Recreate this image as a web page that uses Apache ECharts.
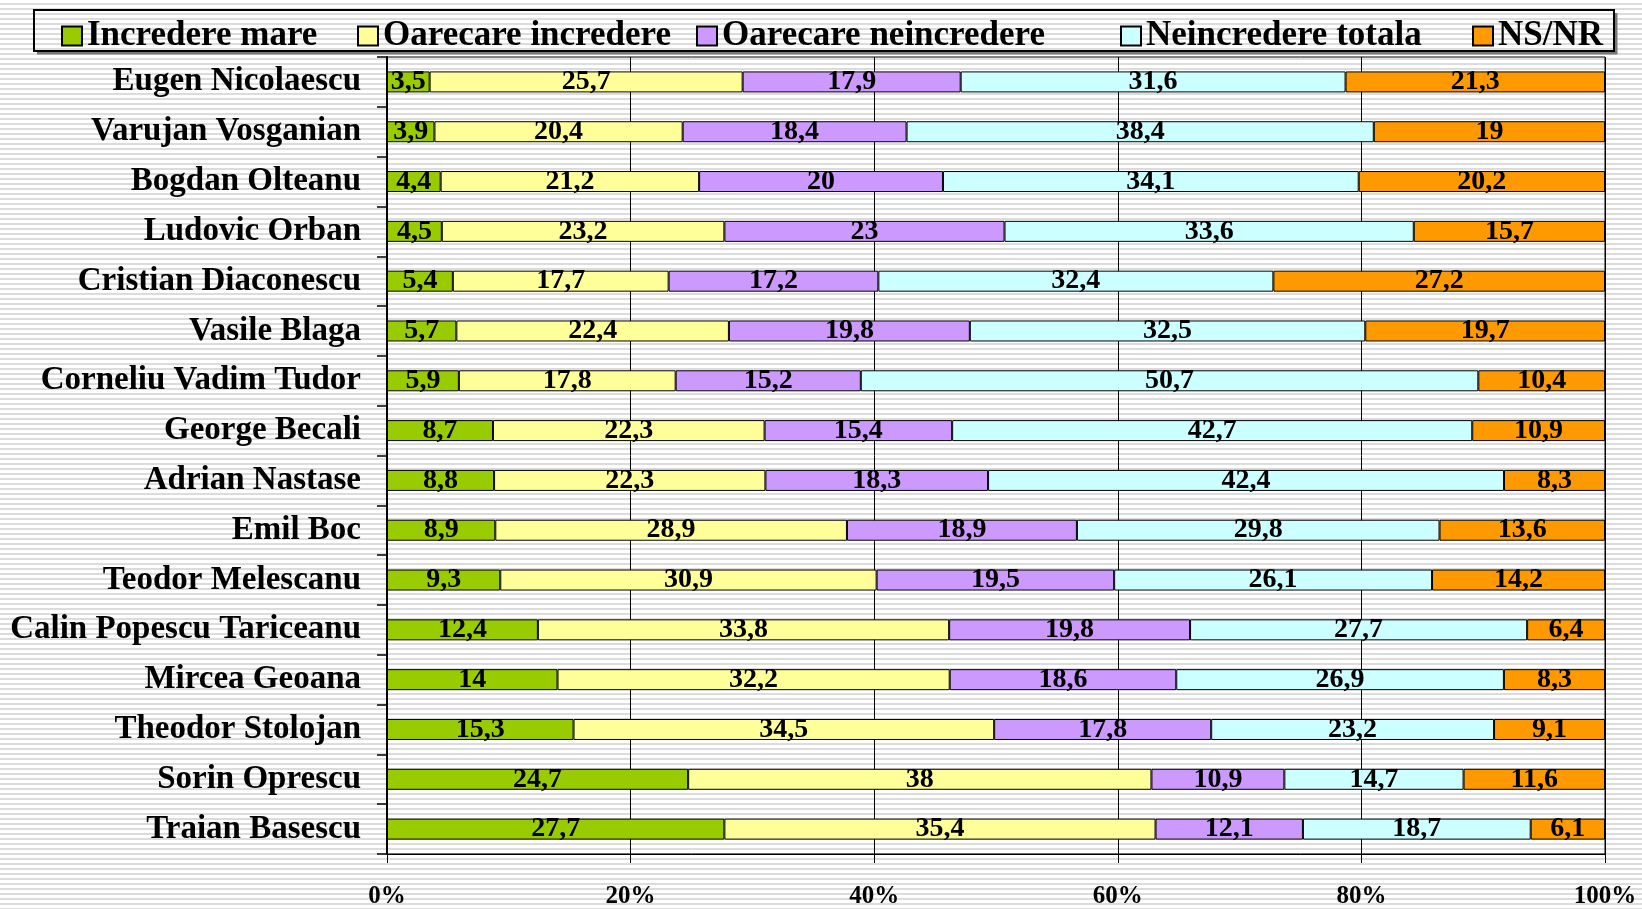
<!DOCTYPE html>
<html>
<head>
<meta charset="utf-8">
<script src="https://cdn.jsdelivr.net/npm/echarts@6/dist/echarts.min.js"></script>
<style>
html, body { margin: 0; padding: 0; }
body {
  width: 1642px; height: 909px;
  background: repeating-linear-gradient(to bottom, #ffffff 0px, #ffffff 3px, #dcdcdc 3px, #dcdcdc 5px);
}
#chart { width: 1642px; height: 909px; }
</style>
</head>
<body>
<div id="chart"></div>
<script>
const categories = [
  "Eugen Nicolaescu", "Varujan Vosganian", "Bogdan Olteanu", "Ludovic Orban",
  "Cristian Diaconescu", "Vasile Blaga", "Corneliu Vadim Tudor", "George Becali",
  "Adrian Nastase", "Emil Boc", "Teodor Melescanu", "Calin Popescu Tariceanu",
  "Mircea Geoana", "Theodor Stolojan", "Sorin Oprescu", "Traian Basescu"
];
const seriesNames = ["Incredere mare", "Oarecare incredere", "Oarecare neincredere", "Neincredere totala", "NS/NR"];
const increderMare       = [3.5, 3.9, 4.4, 4.5, 5.4, 5.7, 5.9, 8.7, 8.8, 8.9, 9.3, 12.4, 14, 15.3, 24.7, 27.7];
const oarecareIncredere  = [25.7, 20.4, 21.2, 23.2, 17.7, 22.4, 17.8, 22.3, 22.3, 28.9, 30.9, 33.8, 32.2, 34.5, 38, 35.4];
const oarecareNeincred   = [17.9, 18.4, 20, 23, 17.2, 19.8, 15.2, 15.4, 18.3, 18.9, 19.5, 19.8, 18.6, 17.8, 10.9, 12.1];
const neincredereTotala  = [31.6, 38.4, 34.1, 33.6, 32.4, 32.5, 50.7, 42.7, 42.4, 29.8, 26.1, 27.7, 26.9, 23.2, 14.7, 18.7];
const nsnr               = [21.3, 19, 20.2, 15.7, 27.2, 19.7, 10.4, 10.9, 8.3, 13.6, 14.2, 6.4, 8.3, 9.1, 11.6, 6.1];
const xTickValues = [0, 20, 40, 60, 80, 100];

const raw = [increderMare, oarecareIncredere, oarecareNeincred, neincredereTotala, nsnr];
const colors = ["#99cc00", "#ffff99", "#cc99ff", "#ccffff", "#ff9900"];
const totals = categories.map((_, i) => raw.reduce((s, arr) => s + arr[i], 0));

const FONT = "'Liberation Serif', 'Times New Roman', serif";
const legendLefts = [61, 357, 696, 1120, 1472];

const chart = echarts.init(document.getElementById('chart'), null, { renderer: 'canvas' });
chart.setOption({
  backgroundColor: 'transparent',
  animation: false,
  grid: { left: 387, right: 37, top: 57, bottom: 55, show: true, borderColor: '#000', borderWidth: 1, backgroundColor: 'transparent' },
  legend: seriesNames.map((n, i) => ({
    data: [n], left: legendLefts[i], top: 16, padding: 0,
    itemWidth: 20, itemHeight: 19, itemGap: 0,
    icon: 'rect',
    textStyle: { fontFamily: FONT, fontWeight: 'bold', fontSize: 35, color: '#000', lineHeight: 40 }
  })),
  graphic: [
    { type: 'polyline', silent: true, z: 0, shape: { points: [[1616, 13], [1616, 53], [37, 53]] }, style: { fill: 'none', stroke: '#7a7a7a', lineWidth: 3 } },
    { type: 'rect', silent: true, z: 1, shape: { x: 34, y: 10, width: 1580, height: 41 }, style: { fill: 'none', stroke: '#000', lineWidth: 2 } }
  ],
  xAxis: {
    type: 'value', min: 0, max: 100, interval: 20,
    axisLine: { show: true, lineStyle: { color: '#000', width: 1 } },
    axisTick: { show: true, length: 9, lineStyle: { color: '#000', width: 1 } },
    splitLine: { show: true, lineStyle: { color: '#000', width: 1 } },
    axisLabel: {
      margin: 30, color: '#000', fontFamily: FONT, fontWeight: 'bold', fontSize: 25,
      formatter: v => (xTickValues.includes(v) ? v + '%' : '')
    }
  },
  yAxis: {
    type: 'category', inverse: true, data: categories,
    axisLine: { show: true, lineStyle: { color: '#000', width: 2 } },
    axisTick: { show: true, length: 10, lineStyle: { color: '#000', width: 1.5 } },
    axisLabel: { margin: 26, color: '#000', fontFamily: FONT, fontWeight: 'bold', fontSize: 33 }
  },
  series: seriesNames.map((n, si) => ({
    name: n, type: 'bar', stack: 'total', barWidth: 21,
    data: raw[si].map((v, i) => v / totals[i] * 100),
    itemStyle: { color: colors[si], borderColor: '#000', borderWidth: 1 },
    label: {
      show: true, position: 'inside', color: '#000',
      fontFamily: FONT, fontWeight: 'bold', fontSize: 28,
      formatter: p => String(raw[si][p.dataIndex]).replace('.', ',')
    }
  }))
});
</script>
</body>
</html>
